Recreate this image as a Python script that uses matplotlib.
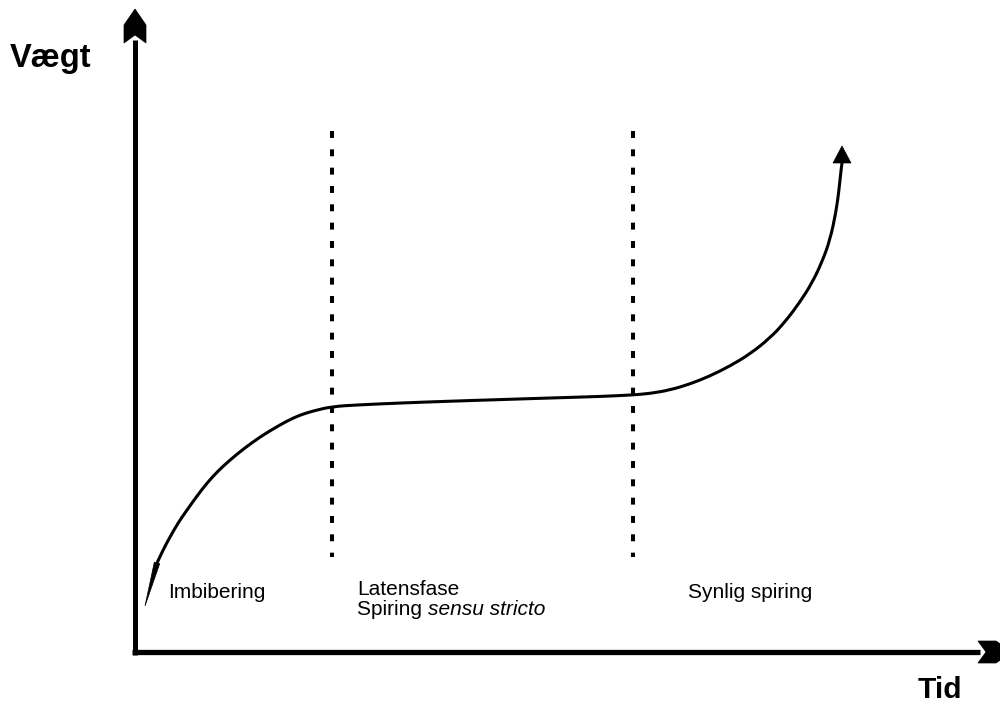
import matplotlib
matplotlib.use("Agg")
import matplotlib.pyplot as plt
from matplotlib.patches import Polygon, PathPatch
from matplotlib.path import Path
import numpy as np

plt.rcParams['font.family'] = ['Liberation Sans', 'DejaVu Sans']
plt.rcParams['lines.scale_dashes'] = False

# ---- data (time units along x, weight units along y; origin at the axes corner) ----
curve_tid = [22, 28, 35, 43, 52, 62, 72, 83, 95, 109, 125, 138, 152, 165, 178, 197,
             225, 265, 315, 365, 415, 465, 497, 515, 535, 555, 575, 595, 615, 635,
             650, 665, 677, 687, 695, 701, 704, 706, 707]
curve_vaegt = [89, 102, 115, 129, 142, 156, 169, 181, 192, 203.5, 215, 223, 231, 237, 241, 245.5,
               247.2, 249, 250.8, 252.4, 254, 255.5, 257, 258.5, 262, 268, 276, 286, 298, 314,
               330, 350, 369, 390, 412, 440, 462, 482, 489]
start_tip = (10, 46)          # start of the curve (small arrow tip)
end_tip = (707, 506)          # arrow tip at the end of the curve
phase_bounds = [197, 498]     # dashed phase boundaries
phase_top, phase_bottom = 521, 95
phase_labels = ["Imbibering", "Latensfase", "Synlig spiring"]
x_label = "Tid"
y_label = "Vægt"

fig = plt.figure(figsize=(10, 7.02), dpi=100)
ax = fig.add_axes([0, 0, 1, 1])
ax.set_xlim(-135, 865)
ax.set_ylim(-50, 652)
ax.axis('off')

K = 'black'
# axes
ax.plot([0, 0], [-3, 612], color=K, lw=3.6, solid_capstyle='butt')
ax.plot([-3, 845], [0, 0], color=K, lw=3.8, solid_capstyle='butt')
yh = [(0, 643), (-11, 627), (-11, 609), (0, 617), (11, 609), (11, 627)]
ax.add_patch(Polygon(yh, closed=True, fc=K, ec=K, lw=0.5))
xh = [(877, 0), (861, 11), (843, 11), (851, 0), (843, -11), (861, -11)]
ax.add_patch(Polygon(xh, closed=True, fc=K, ec=K, lw=0.5))

# dashed phase boundaries
for xb in phase_bounds:
    ax.plot([xb, xb], [phase_top, phase_bottom], color=K, lw=2.9,
            dashes=(5.0, 8.2), dash_capstyle='butt')

# smooth curve through the read points (quadratic Bezier segments)
pts = np.column_stack([curve_tid, curve_vaegt]).astype(float)
verts = [pts[0]]
codes = [Path.MOVETO]
for i in range(1, len(pts) - 2):
    verts += [pts[i], (pts[i] + pts[i + 1]) / 2]
    codes += [Path.CURVE3, Path.CURVE3]
verts += [pts[-2], pts[-1]]
codes += [Path.CURVE3, Path.CURVE3]
ax.add_patch(PathPatch(Path(verts, codes), fc='none', ec=K, lw=2.2,
                       capstyle='round', joinstyle='round'))

# small arrow at the start of the curve
p0 = pts[0]
tip = np.array(start_tip, float)
d = tip - p0
d /= np.hypot(*d)
perp = np.array([-d[1], d[0]])
ax.add_patch(Polygon([p0 + 2.8 * perp, tip, p0 - 2.8 * perp], closed=True,
                     fc=K, ec=K, lw=0.5))
# arrow at the end of the curve
p1 = pts[-1]
tip = np.array(end_tip, float)
d = tip - p1
d /= np.hypot(*d)
perp = np.array([-d[1], d[0]])
base = tip - 17 * d
ax.add_patch(Polygon([base + 9 * perp, tip, base - 9 * perp], closed=True,
                     fc=K, ec=K, lw=0.5))

# labels
ax.text(-125, 585, y_label, fontsize=23.5, fontweight='bold', va='baseline', ha='left')
ax.text(783, -46, x_label, fontsize=21.5, fontweight='bold', va='baseline', ha='left')

fs = 15
ax.text(33, 54, phase_labels[0], fontsize=fs, va='baseline', ha='left')
ax.text(222, 57, phase_labels[1], fontsize=fs, va='baseline', ha='left')
t1 = ax.text(222, 37, "Spiring ", fontsize=fs, va='baseline', ha='left')
ax.annotate("sensu stricto", xy=(1, 0), xycoords=t1, fontsize=fs, style='italic',
            va='bottom', ha='left')
ax.text(553, 54, phase_labels[2], fontsize=fs, va='baseline', ha='left')

fig.savefig("out.png", dpi=100)
